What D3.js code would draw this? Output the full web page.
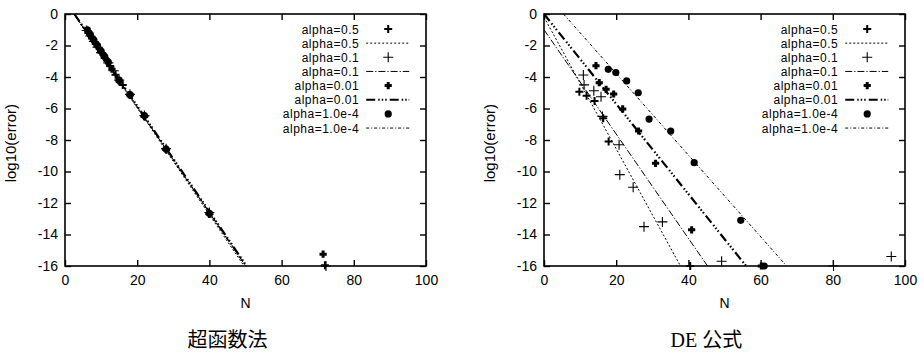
<!DOCTYPE html>
<html>
<head>
<meta charset="utf-8">
<script src="https://cdn.jsdelivr.net/npm/d3@7"></script>
<style>
  body { margin: 0; background: #fff; }
  svg { display: block; }
  text { fill: #000; }
</style>
</head>
<body>
<div id="chart"></div>
<script>
// legend labels and ticks
const seriesNames = ["alpha=0.5", "alpha=0.1", "alpha=0.01", "alpha=1.0e-4"];
const xTicks = [0, 20, 40, 60, 80, 100];
const yTicks = [0, -2, -4, -6, -8, -10, -12, -14, -16];
const captions = ["超函数法", "DE 公式"];

// 超函数法 : measured points (N, log10 error)
const leftN05 = [6.5, 7.5, 8.5, 10, 11, 12.5, 14, 16, 18, 22, 28, 40, 72];
const leftE05 = [-1.2, -1.55, -1.9, -2.45, -2.8, -3.3, -3.85, -4.5, -5.15, -6.5, -8.6, -12.7, -15.95];
const leftN01 = [6, 7, 8, 9, 10, 12, 13.5, 15, 18, 22, 28, 40, 72.3];
const leftE01 = [-1.05, -1.4, -1.75, -2.1, -2.45, -3.1, -3.6, -4.2, -5.1, -6.45, -8.55, -12.6, -16];
const leftN001 = [6.5, 7.5, 8.5, 9.5, 10.5, 11.5, 13, 15, 18, 22, 28, 40, 71.5];
const leftE001 = [-1.15, -1.5, -1.85, -2.2, -2.55, -2.9, -3.5, -4.25, -5.15, -6.5, -8.6, -12.7, -15.25];
const leftN1e4 = [6.2, 7, 8, 9, 10, 11, 12, 15, 18, 22, 28, 40];
const leftE1e4 = [-1.0, -1.3, -1.65, -2.0, -2.35, -2.7, -3.05, -4.2, -5.12, -6.45, -8.57, -12.65];
// 超函数法 : fitted lines
const leftFit05 = [[2.4, 0], [49.6, -16]];
const leftFit01 = [[2.5, 0], [50.0, -16]];
const leftFit001 = [[2.6, 0], [50.3, -16]];
const leftFit1e4 = [[2.5, 0], [50.2, -16]];

// DE 公式 : measured points
const rightN05 = [9.8, 11.8, 14.0, 16.4, 17.9, 40.5];
const rightE05 = [-4.93, -5.19, -5.52, -6.62, -8.1, -16];
const rightN01 = [10.9, 11.1, 13.8, 15.8, 16.2, 20.8, 21.0, 24.7, 27.7, 32.8, 49.2, 80.2, 96.2];
const rightE01 = [-3.87, -4.5, -4.87, -5.25, -6.5, -8.3, -10.2, -11.0, -13.5, -13.2, -15.7, -16, -15.4];
const rightN001 = [14.4, 15.3, 17.2, 19.3, 21.8, 26.2, 30.9, 40.9, 60.2];
const rightE001 = [-3.28, -4.36, -4.78, -5.08, -6.03, -7.43, -9.48, -13.7, -16];
const rightN1e4 = [17.8, 19.9, 22.9, 26.1, 29.1, 35.1, 41.6, 54.5, 61.0];
const rightE1e4 = [-3.51, -3.72, -4.25, -5.0, -6.67, -7.43, -9.44, -13.1, -16];
// DE 公式 : fitted lines
const rightFit05 = [[0, -0.2], [37.8, -16]];
const rightFit01 = [[0, -1.0], [45.3, -16]];
const rightFit001 = [[0, 0], [56, -16]];
const rightFit1e4 = [[5.4, 0], [67.2, -16]];

// marker and line looks, one per alpha
const markStyle = [
  { kind: "plus", size: 4, width: 2 },
  { kind: "plus", size: 5, width: 1.1 },
  { kind: "plus", size: 3.6, width: 3 },
  { kind: "circle", size: 3.6 }
];
const lineStyle = [
  { dash: "2,2", width: 1 },
  { dash: "7,2,1.2,2", width: 1 },
  { dash: "9,3,1.5,2,1.5,2,1.5,3", width: 2.2 },
  { dash: "3,2,1,2", width: 1 }
];

const W = 924, H = 354;
const svg = d3.select("#chart").append("svg")
  .attr("width", W).attr("height", H)
  .style("font-family", "'Liberation Sans', Arial, sans-serif");

const drawMarker = function (g, px, py, st) {
  if (st.kind === "circle") {
    g.append("circle").attr("cx", px).attr("cy", py).attr("r", st.size).attr("fill", "#000");
  } else {
    const s = st.size;
    g.append("path")
      .attr("d", `M${px - s},${py}h${2 * s}M${px},${py - s}v${2 * s}`)
      .attr("stroke", "#000").attr("stroke-width", st.width).attr("fill", "none");
  }
};

const drawPanel = function (left, caption, points, fits) {
  const x = d3.scaleLinear().domain([0, 100]).range([left, left + 361]);
  const y = d3.scaleLinear().domain([0, -16]).range([14, 266]);
  const g = svg.append("g");
  const fmt = d => String(d);

  g.append("g").attr("transform", `translate(0,${y(-16)})`)
    .call(d3.axisBottom(x).tickValues(xTicks).tickSize(-6).tickPadding(9).tickFormat(fmt));
  g.append("g").attr("transform", `translate(0,${y(0)})`)
    .call(d3.axisTop(x).tickValues(xTicks).tickSize(-6).tickFormat(""));
  g.append("g").attr("transform", `translate(${x(0)},0)`)
    .call(d3.axisLeft(y).tickValues(yTicks).tickSize(-6).tickPadding(7).tickFormat(fmt));
  g.append("g").attr("transform", `translate(${x(100)},0)`)
    .call(d3.axisRight(y).tickValues(yTicks).tickSize(-6).tickFormat(""));
  g.selectAll(".domain").remove();
  g.selectAll(".tick line").attr("stroke", "#000").attr("stroke-width", 1.4);
  g.selectAll(".tick text").attr("font-size", 14).attr("font-family", "'Liberation Sans', Arial, sans-serif");

  g.append("rect")
    .attr("x", x(0)).attr("y", y(0))
    .attr("width", x(100) - x(0)).attr("height", y(-16) - y(0))
    .attr("fill", "none").attr("stroke", "#000").attr("stroke-width", 1.6);

  // axis titles
  g.append("text")
    .attr("transform", `translate(${x(0) - 49},${y(-8.2)}) rotate(-90)`)
    .attr("text-anchor", "middle").attr("font-size", 15)
    .text("log10(error)");
  g.append("text")
    .attr("x", x(50)).attr("y", 308)
    .attr("text-anchor", "middle").attr("font-size", 14)
    .text("N");
  g.append("text")
    .attr("x", x(45)).attr("y", 347)
    .attr("text-anchor", "middle").attr("font-size", 20)
    .attr("font-family", "'Liberation Serif', 'Noto Sans CJK JP', serif")
    .text(caption);

  const clipId = "clip" + left;
  svg.append("clipPath").attr("id", clipId).append("rect")
    .attr("x", x(0)).attr("y", y(0) - 1)
    .attr("width", x(100) - x(0)).attr("height", y(-16) - y(0) + 2);

  const line = d3.line().x(d => x(d[0])).y(d => y(d[1]));
  const plot = g.append("g").attr("clip-path", `url(#${clipId})`);
  fits.forEach((f, i) => {
    plot.append("path").datum(f).attr("d", line)
      .attr("fill", "none").attr("stroke", "#000")
      .attr("stroke-width", lineStyle[i].width)
      .attr("stroke-dasharray", lineStyle[i].dash);
  });
  points.forEach((p, i) => {
    p[0].forEach((n, k) => drawMarker(g, x(n), y(p[1][k]), markStyle[i]));
  });

  // legend
  const legX = x(81.5);
  seriesNames.forEach((name, i) => {
    [0, 1].forEach(j => {
      const cy = 29 + (i * 2 + j) * 14.15;
      g.append("text")
        .attr("x", legX).attr("y", cy + 4.5)
        .attr("text-anchor", "end").attr("font-size", 12)
        .attr("letter-spacing", 0.5)
        .text(name);
      if (j === 0) {
        drawMarker(g, legX + 29, cy, markStyle[i]);
      } else {
        g.append("line")
          .attr("x1", legX + 7).attr("x2", legX + 50)
          .attr("y1", cy).attr("y2", cy)
          .attr("stroke", "#000")
          .attr("stroke-width", lineStyle[i].width)
          .attr("stroke-dasharray", lineStyle[i].dash);
      }
    });
  });
};

drawPanel(65, captions[0],
  [[leftN05, leftE05], [leftN01, leftE01], [leftN001, leftE001], [leftN1e4, leftE1e4]],
  [leftFit05, leftFit01, leftFit001, leftFit1e4]);
drawPanel(544, captions[1],
  [[rightN05, rightE05], [rightN01, rightE01], [rightN001, rightE001], [rightN1e4, rightE1e4]],
  [rightFit05, rightFit01, rightFit001, rightFit1e4]);
</script>
</body>
</html>
